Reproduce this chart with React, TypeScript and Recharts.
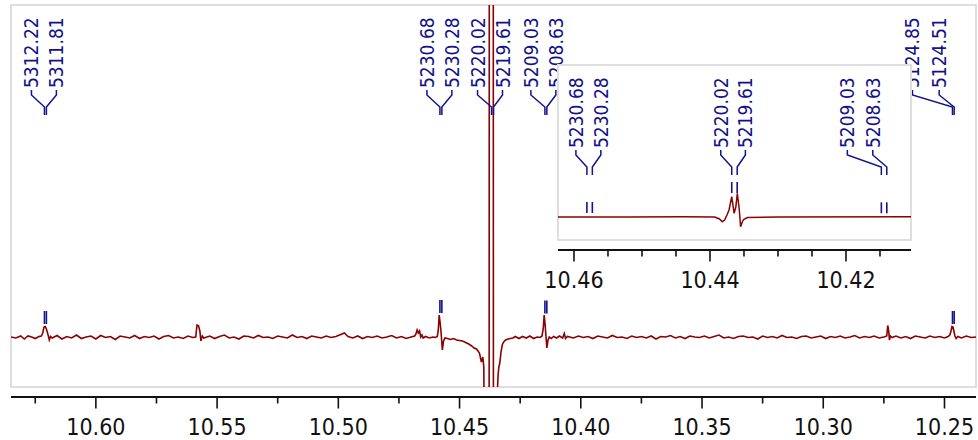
import React from "react";
import {
  ComposedChart,
  Line,
  Scatter,
  XAxis,
  YAxis,
  ReferenceLine,
} from "recharts";

// chemical shift (ppm) / intensity pairs
const mainTrace: [number, number][] = [
  [10.635, 0], [10.633, -1], [10.631, 1], [10.6295, -2], [10.628, 1], [10.6265, 0], [10.625, -1.5], [10.6235, 0.5],
  [10.6225, 1], [10.6219, 4], [10.6214, 10], [10.6209, 10.5], [10.6204, 8], [10.6198, 3], [10.6192, -3], [10.6187, 0.5], [10.618, -1],
  [10.616, 1.5], [10.614, -2], [10.612, 0.5], [10.61, -1], [10.608, 2], [10.606, -1.5], [10.604, 0], [10.602, 1],
  [10.6, -2], [10.598, 1.5], [10.596, -0.5], [10.594, 0.5], [10.592, -2.5], [10.59, 1], [10.588, 0], [10.586, -1],
  [10.584, 1.5], [10.582, -1.5], [10.58, 0.5], [10.578, -0.5], [10.576, 1], [10.574, -2], [10.572, 0.5], [10.57, 1.5],
  [10.568, -1], [10.566, 0], [10.564, -1.5], [10.562, 1], [10.56, -0.5],
  [10.5588, 0], [10.5583, 12], [10.5577, 11.5], [10.5571, 6], [10.5567, -4], [10.5561, 1], [10.5555, -1],
  [10.553, 1], [10.551, -1.5], [10.549, 0.5], [10.547, 2], [10.545, -1], [10.543, 0], [10.541, -2], [10.539, 1],
  [10.537, 0.5], [10.535, -1], [10.533, 1.5], [10.531, -0.5], [10.529, 0], [10.527, -1.5], [10.525, 1], [10.523, 0],
  [10.521, -1], [10.519, 2], [10.517, -0.5], [10.515, 0.5], [10.513, -1.5], [10.511, 1], [10.509, 0], [10.507, -1],
  [10.505, 1], [10.503, -0.5], [10.501, 0.5], [10.499, 2.5], [10.4975, 4], [10.496, 0.5], [10.494, -1], [10.492, 1],
  [10.49, -1.5], [10.488, 0.5], [10.486, -0.5], [10.484, 1], [10.482, -1], [10.48, 0], [10.478, 1.5], [10.476, -1],
  [10.474, 0.5], [10.472, -1.5], [10.47, 0],
  [10.4685, 1], [10.468, 3], [10.4675, 7], [10.467, 4], [10.4665, 6], [10.466, 0], [10.4655, 2], [10.465, -1],
  [10.464, 0.5], [10.4625, -1], [10.461, 0], [10.46, -0.5], [10.4592, 0.5],
  [10.4588, 6], [10.4584, 22], [10.458, 14], [10.4576, 4], [10.4571, -13], [10.4566, -4], [10.456, -1],
  [10.455, -1.5], [10.4538, -2.5], [10.4525, -1.5], [10.4512, -3], [10.45, -3.5], [10.4488, -4], [10.4475, -5.5],
  [10.4462, -7], [10.445, -9], [10.444, -11], [10.443, -12], [10.4418, -16], [10.441, -25], [10.4404, -20],
  [10.44, -30], [10.4396, -150], [10.439, -120], [10.4378, -100], [10.4374, 3000], [10.4369, 700], [10.4364, 3000],
  [10.436, -400], [10.4354, -300], [10.4347, -70], [10.4341, -38], [10.4338, -30], [10.4334, -26], [10.4329, -15],
  [10.4324, -8], [10.4318, -5], [10.431, -3], [10.43, -2], [10.429, -1.5], [10.428, -1],
  [10.427, 0.5], [10.4255, -1.5], [10.424, 0.5], [10.4225, -1], [10.421, 1], [10.4195, -1.5], [10.418, 0],
  [10.4168, -0.5], [10.416, 1], [10.4155, 8], [10.4151, 22], [10.4147, 12], [10.4144, 2], [10.414, -11],
  [10.4135, -3], [10.413, 0], [10.4122, -1.5], [10.4112, 0.5], [10.41, -1], [10.4088, 1], [10.4075, -1],
  [10.4068, 3.5], [10.4063, -1.5], [10.4055, 0.5],
  [10.403, -1], [10.401, 1], [10.399, -0.5], [10.397, 0.5], [10.395, -1.5], [10.393, 1], [10.391, 0], [10.389, -1],
  [10.387, 1.5], [10.385, -0.5], [10.383, 0], [10.381, -1.5], [10.379, 1], [10.377, -0.5], [10.375, 0.5], [10.373, -1],
  [10.371, 1], [10.369, -2], [10.367, 0.5], [10.365, 0], [10.363, 1.5], [10.361, -1], [10.359, 0.5], [10.357, -1.5],
  [10.355, 1], [10.353, 0], [10.351, -0.5], [10.349, 1], [10.347, -1], [10.345, 0.5], [10.343, 2], [10.341, -1],
  [10.339, 0], [10.337, -1.5], [10.335, 0.5], [10.333, 1], [10.331, -0.5], [10.329, 0], [10.327, -2], [10.325, 1],
  [10.323, -0.5], [10.321, 0.5], [10.319, -1], [10.317, 1.5], [10.315, -0.5], [10.313, 0], [10.311, -1.5], [10.309, 0.5],
  [10.307, 1], [10.305, -1], [10.303, 0], [10.301, 1], [10.299, -1.5], [10.297, 0.5], [10.295, -0.5], [10.293, 1],
  [10.291, -1], [10.289, 0], [10.287, 1.5], [10.285, -1], [10.283, 0.5], [10.281, -0.5], [10.279, 1], [10.277, -1],
  [10.275, 0], [10.2738, 1], [10.2734, 11.5], [10.273, 6], [10.2727, -3], [10.2723, 1], [10.2716, -0.5],
  [10.27, 1], [10.268, -1], [10.266, 0.5], [10.264, -1.5], [10.262, 1], [10.26, 0], [10.258, -1], [10.256, 1],
  [10.254, -0.5], [10.252, 0.5], [10.25, -1], [10.2485, 0.5],
  [10.2478, 2], [10.2473, 6], [10.2469, 10.5], [10.2465, 10], [10.2461, 6], [10.2457, 1], [10.2452, -1.5],
  [10.2445, 0.5], [10.243, -1], [10.241, 1], [10.239, -0.5], [10.237, 0],
];

// zoomed region around the central multiplet
const insetTrace: [number, number][] = [
  [10.4624, 0], [10.452, 0], [10.444, 0.2], [10.4393, 0], [10.4386, -2], [10.4382, -4.7], [10.43785, -3],
  [10.4375, 2], [10.4372, 7], [10.4368, 20.3], [10.43645, 3.7], [10.4362, 10], [10.43598, 23.7], [10.4357, 8],
  [10.4355, -9.7], [10.4352, -4], [10.435, -2.3], [10.4345, -0.5], [10.43, 0], [10.4104, 0.3],
];

// peak picks (Hz labels) and their shifts
const peakLabels = ["5312.22", "5311.81", "5230.68", "5230.28", "5220.02", "5219.61", "5209.03", "5208.63", "5124.85", "5124.51"];
const peakPpm = [10.6212, 10.6204, 10.4581, 10.4573, 10.4368, 10.436, 10.4148, 10.414, 10.2467, 10.246];
// height of the pick marks above the trace (null: peak off scale)
const mainMarkLevel = [13, 13, 24, 24, null, null, 23.5, 23.5, 13, 13];
const insetMarkLevel = [null, null, 4, 4, 24, 24, 3.7, 3.7, null, null];

const mainTicks = [10.625, 10.6, 10.575, 10.55, 10.525, 10.5, 10.475, 10.45, 10.425, 10.4, 10.375, 10.35, 10.325, 10.3, 10.275, 10.25];
const mainMajor = [10.6, 10.55, 10.5, 10.45, 10.4, 10.35, 10.3, 10.25];
const insetTicks = [10.46, 10.455, 10.45, 10.445, 10.44, 10.435, 10.43, 10.425, 10.42, 10.415];
const insetMajor = [10.46, 10.44, 10.42];

const RED = "#8b0000";
const BLUE = "#12128c";
const FRAME = "#dedede";
const FONT = "'DejaVu Sans Condensed', 'Liberation Sans', Arial, sans-serif";

// label x offsets (px) from each peak
const mainDx: Record<string, number> = {
  "5312.22": -13, "5311.81": 10, "5230.68": -13, "5230.28": 10, "5220.02": -14, "5219.61": 9,
  "5209.03": -14, "5208.63": 9, "5124.85": -40, "5124.51": -15,
};
const insetDx: Record<string, number> = {
  "5230.68": -11, "5230.28": 8.5, "5220.02": -11, "5219.61": 8.2, "5209.03": -34, "5208.63": -14,
};

const toPts = (t: [number, number][]) => t.map(([ppm, v]) => ({ ppm, v }));
const mainData = toPts(mainTrace);
const insetData = toPts(insetTrace);

const MAIN_LABEL_LEVEL = 222;
const INSET_LABEL_LEVEL = 42;

const mainLabels = peakLabels.map((label, i) => ({ label, ppm: peakPpm[i], v: MAIN_LABEL_LEVEL }));
const insetLabels = peakLabels
  .map((label, i) => ({ label, ppm: peakPpm[i], v: INSET_LABEL_LEVEL }))
  .filter((d) => insetDx[d.label] !== undefined);
const mainMarks = peakPpm
  .map((ppm, i) => ({ ppm, v: mainMarkLevel[i] }))
  .filter((d) => d.v !== null);
const insetMarks = peakPpm
  .map((ppm, i) => ({ ppm, v: insetMarkLevel[i] }))
  .filter((d) => d.v !== null);

const isIn = (arr: number[], v: number) => arr.some((a) => Math.abs(a - v) < 1e-6);

function makeTick(axisY: number, major: number[], labelY: number) {
  return (props: any) => {
    const { x, payload } = props;
    const big = isIn(major, payload.value);
    return (
      <g>
        <line x1={x} x2={x} y1={axisY} y2={axisY + (big ? 11.5 : 6.5)} stroke="#111" strokeWidth={1.6} />
        {big && (
          <text x={x} y={labelY} textAnchor="middle" dominantBaseline="central" fontSize={23} fontFamily={FONT} fill="#111">
            {payload.value.toFixed(2)}
          </text>
        )}
      </g>
    );
  };
}

function makeLabel(dx: Record<string, number>) {
  return (props: any) => {
    const { cx, cy, payload } = props;
    const lx = cx + (dx[payload.label] ?? 0);
    const ty = cy - 27;
    return (
      <g>
        <path
          d={`M${lx},${cy - 25} L${lx},${cy - 20} L${cx},${cy - 8} L${cx},${cy}`}
          fill="none"
          stroke={BLUE}
          strokeWidth={1.5}
        />
        <text
          x={lx}
          y={ty}
          transform={`rotate(-90 ${lx} ${ty})`}
          textAnchor="start"
          dominantBaseline="central"
          fontSize={19}
          fontFamily={FONT}
          fill={BLUE}
        >
          {payload.label}
        </text>
      </g>
    );
  };
}

function makeMark(h: number) {
  return (props: any) => {
    const { cx, cy } = props;
    return <line x1={cx} x2={cx} y1={cy} y2={cy - h} stroke={BLUE} strokeWidth={1.6} />;
  };
}

export default function App() {
  return (
    <div style={{ position: "absolute", left: 0, top: 0, width: 978, height: 440, background: "#fff" }}>
      <div
        style={{
          position: "absolute", left: 10, top: 4, width: 967, height: 384,
          border: `2px solid ${FRAME}`, boxSizing: "border-box",
        }}
      />
      <div style={{ position: "absolute", left: 0, top: 0 }}>
        <ComposedChart width={978} height={440} margin={{ top: 5, right: 2, bottom: 0, left: 11 }}>
          <XAxis
            type="number"
            dataKey="ppm"
            domain={[10.237, 10.635]}
            reversed
            allowDataOverflow
            ticks={mainTicks}
            interval={0}
            axisLine={false}
            tickLine={false}
            tick={makeTick(397, mainMajor, 427)}
            height={53}
          />
          <YAxis type="number" dataKey="v" domain={[-50, 332]} allowDataOverflow hide />
          <ReferenceLine y={-60} stroke="#111" strokeWidth={2} ifOverflow="visible" />
          <Line data={mainData} dataKey="v" type="linear" stroke={RED} strokeWidth={1.6} dot={false} isAnimationActive={false} />
          <Scatter data={mainMarks} dataKey="v" shape={makeMark(13)} isAnimationActive={false} />
          <Scatter data={mainLabels} dataKey="v" shape={makeLabel(mainDx)} isAnimationActive={false} />
        </ComposedChart>
      </div>
      <div
        style={{
          position: "absolute", left: 557, top: 64, width: 355, height: 177,
          border: `2px solid ${FRAME}`, boxSizing: "border-box", background: "#fff",
        }}
      />
      <div style={{ position: "absolute", left: 0, top: 0 }}>
        <ComposedChart width={978} height={440} margin={{ top: 65, right: 67, bottom: 140, left: 558 }}>
          <XAxis
            type="number"
            dataKey="ppm"
            domain={[10.41044, 10.46235]}
            reversed
            allowDataOverflow
            ticks={insetTicks}
            interval={0}
            axisLine={false}
            tickLine={false}
            tick={makeTick(250, insetMajor, 280)}
            height={60}
          />
          <YAxis type="number" dataKey="v" domain={[-23, 152]} allowDataOverflow hide />
          <ReferenceLine y={-33} stroke="#111" strokeWidth={2} ifOverflow="visible" />
          <Line data={insetData} dataKey="v" type="linear" stroke={RED} strokeWidth={1.5} dot={false} isAnimationActive={false} />
          <Scatter data={insetMarks} dataKey="v" shape={makeMark(11)} isAnimationActive={false} />
          <Scatter data={insetLabels} dataKey="v" shape={makeLabel(insetDx)} isAnimationActive={false} />
        </ComposedChart>
      </div>
    </div>
  );
}
